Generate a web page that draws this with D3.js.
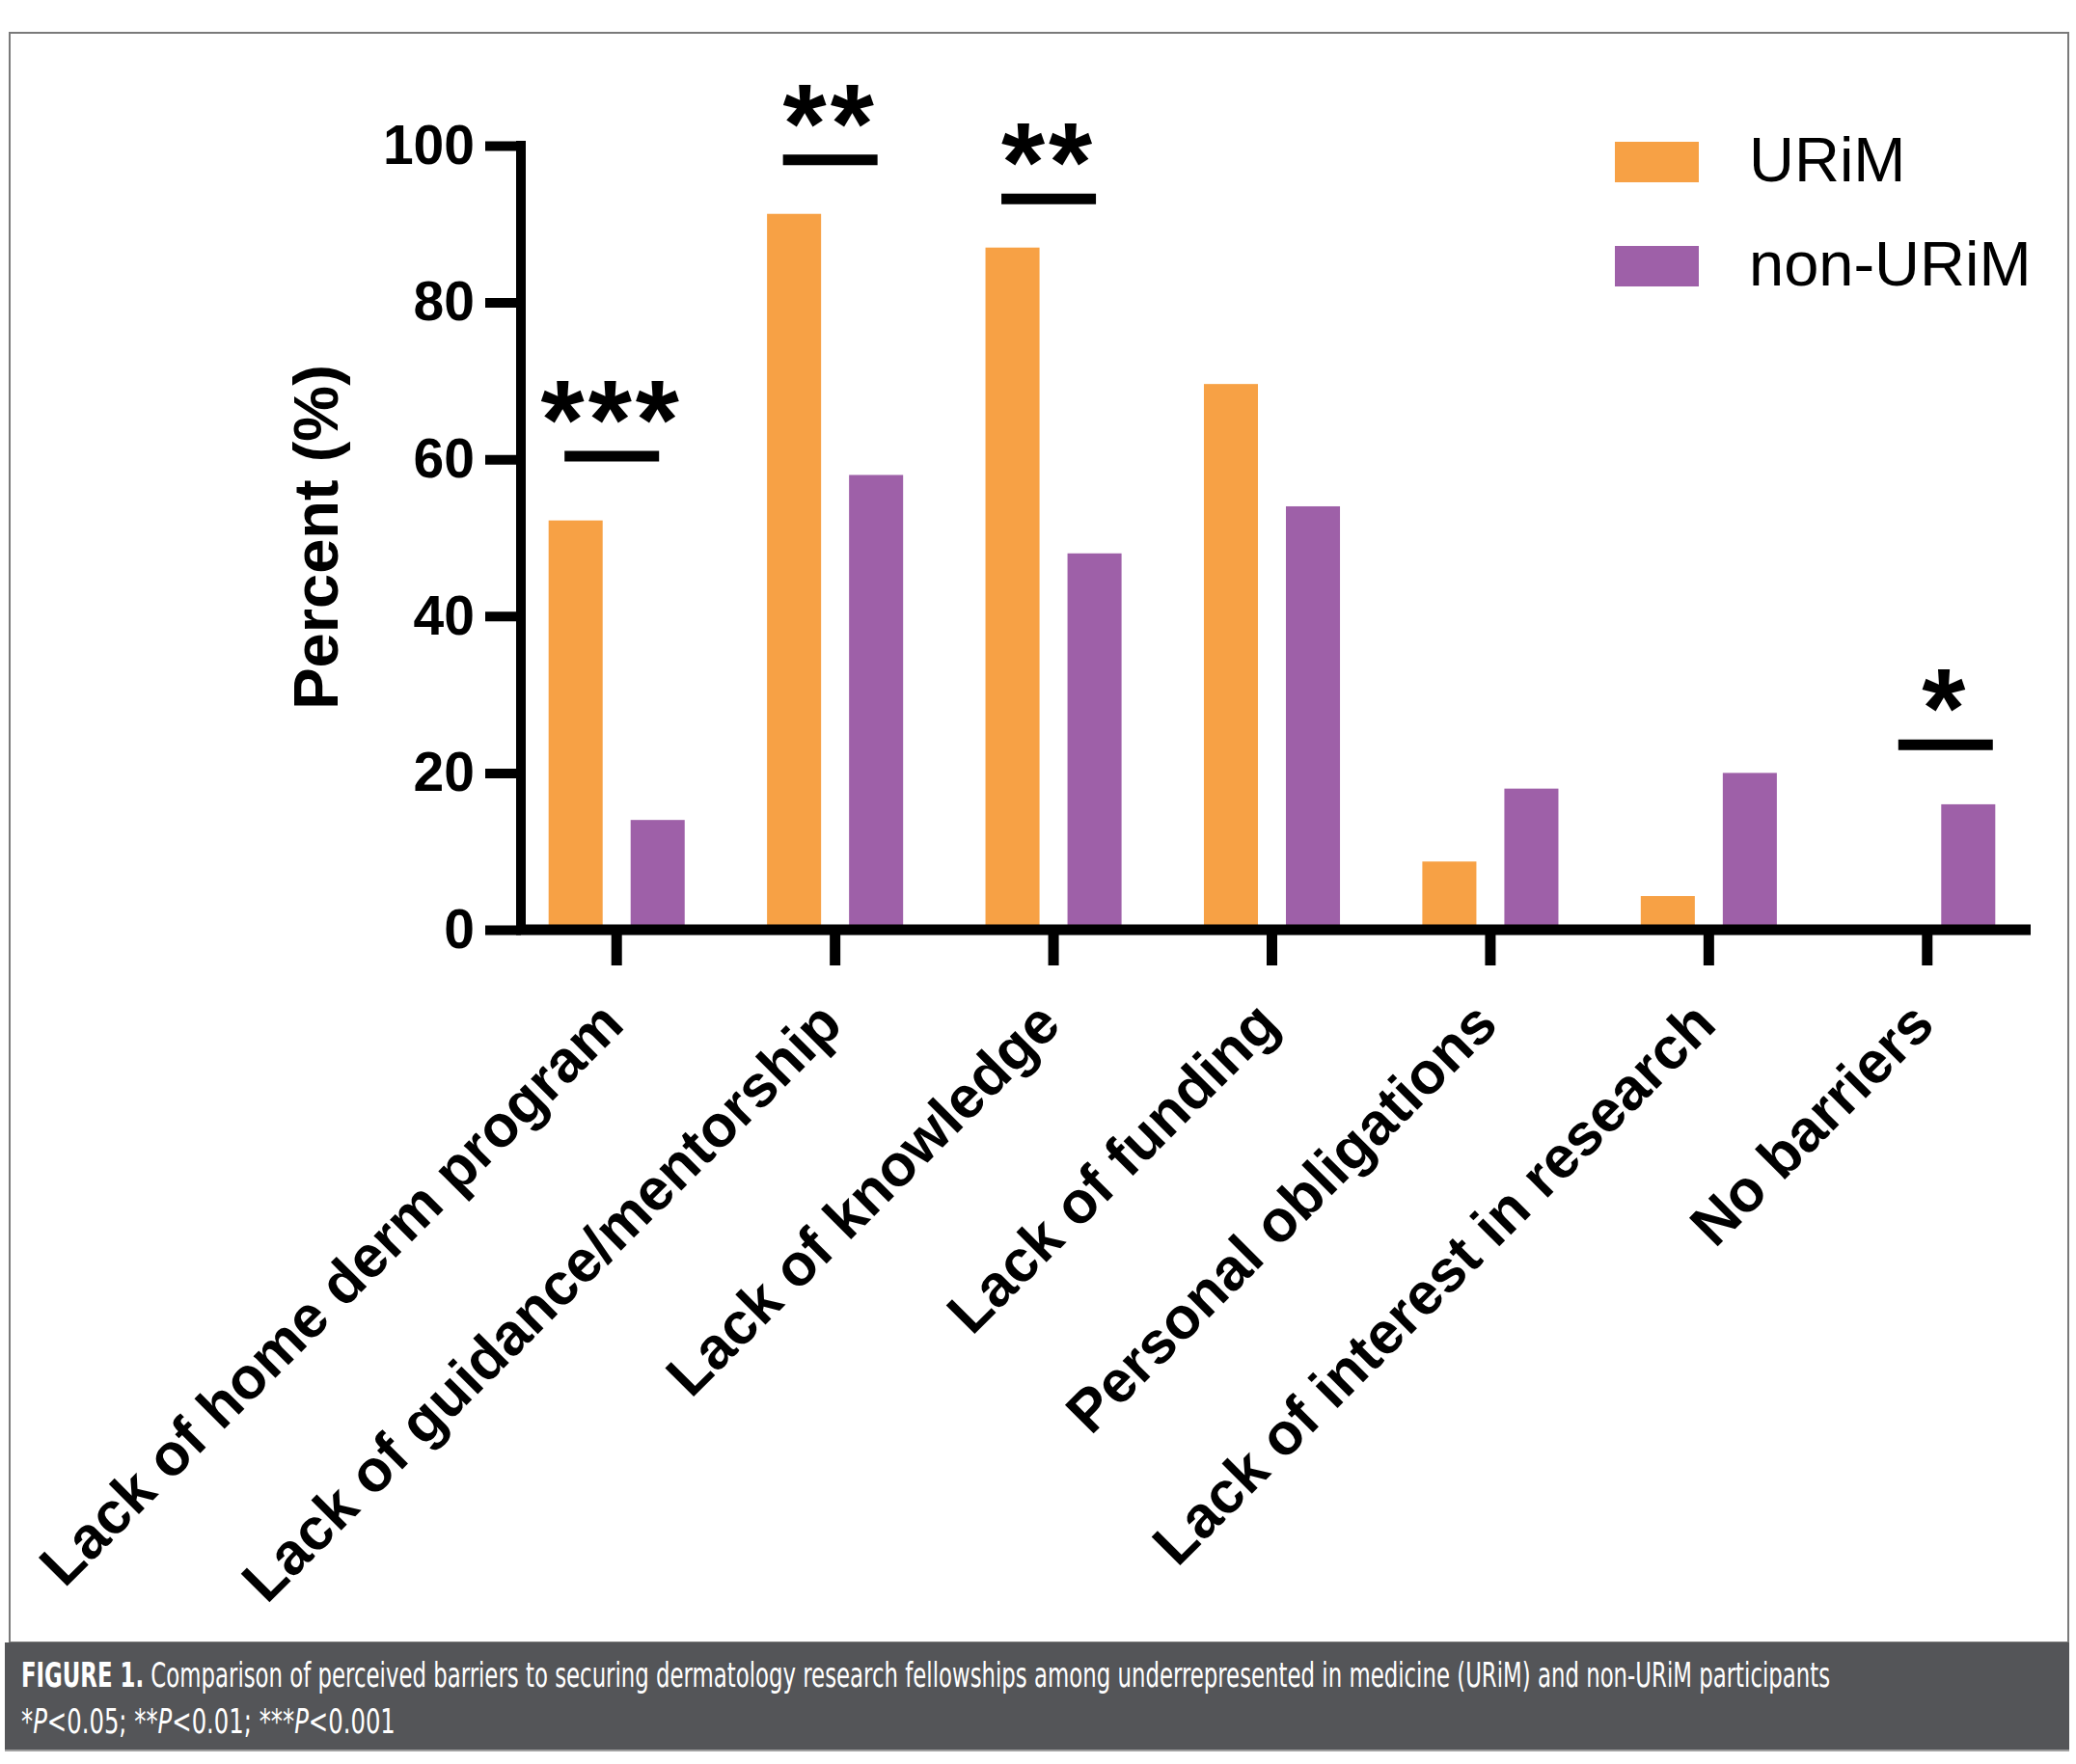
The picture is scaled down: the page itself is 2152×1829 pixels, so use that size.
<!DOCTYPE html>
<html>
<head>
<meta charset="utf-8">
<script src="https://cdn.jsdelivr.net/npm/d3@7"></script>
<style>
    body { margin: 0; background: #fff; }
</style>
</head>
<body>
<script>
// Barriers (x categories)
var categories = ["Lack of home derm program", "Lack of guidance/mentorship", "Lack of knowledge",
    "Lack of funding", "Personal obligations", "Lack of interest in research", "No barriers"];
var groups = ["URiM", "non-URiM"];

// Percent of respondents
var urimValues = [52.2, 91.3, 87.0, 69.6, 8.7, 4.3, 0];
var nonUrimValues = [14, 58, 48, 54, 18, 20, 16];

var yTicks = [0, 20, 40, 60, 80, 100];

// Significance marks
var sigCategories = ["Lack of home derm program", "Lack of guidance/mentorship", "Lack of knowledge", "No barriers"];
var sigLabels = ["***", "**", "**", "*"];
var sigLevels = [60.4, 98.2, 93.2, 23.6];

var captionTitle = "FIGURE 1.";
var captionText = " Comparison of perceived barriers to securing dermatology research fellowships among underrepresented in medicine (URiM) and non-URiM participants";
var captionNotes = [["*", "P", "<0.05; "], ["**", "P", "<0.01; "], ["***", "P", "<0.001"]];

var width = 2152,
    height = 1829,
    plotLeft = 540,
    plotRight = 2105;

var chartFont = "'Liberation Sans', Arial, Helvetica, sans-serif";
var captionFont = "'Liberation Sans Narrow', 'DejaVu Sans Condensed', 'Roboto Condensed', 'Open Sans', sans-serif";

/**
 * 
 */
function appendSVG() {
    var svg = d3.select("body")
        .append("svg")
        .attr("width", width)
        .attr("height", height);

    svg.append("rect")
        .attr("width", width)
        .attr("height", height)
        .attr("fill", "#fff");

    return svg;
}

/**
 * fit a text element to a given width by scaling it horizontally
 */
function fitText(textEl, x, y, targetWidth) {
    var w = textEl.node().getBBox().width;
    textEl.attr("transform", "translate(" + x + "," + y + ") scale(" + (targetWidth / w) + ",1)");
}

/**
 * 
 * @param {*} svg 
 */
function addFrame(svg) {
    svg.append("rect")
        .attr("x", 10)
        .attr("y", 34)
        .attr("width", 2134)
        .attr("height", 1669)
        .attr("fill", "none")
        .attr("stroke", "#7a7a7a")
        .attr("stroke-width", 2);

    svg.append("rect")
        .attr("x", 5)
        .attr("y", 1703)
        .attr("width", 2140)
        .attr("height", 112)
        .attr("fill", "#545558");

    svg.append("line")
        .attr("x1", 5).attr("x2", 2145)
        .attr("y1", 1815).attr("y2", 1815)
        .attr("stroke", "#a0a0a0")
        .attr("stroke-width", 2);

    var line1 = svg.append("text")
        .attr("fill", "#fff")
        .style("font-family", captionFont)
        .style("font-stretch", "condensed")
        .style("font-size", "35px");
    line1.append("tspan").style("font-weight", "bold").text(captionTitle);
    line1.append("tspan").text(captionText);
    fitText(line1, 22, 1749, 1876);

    var line2 = svg.append("text")
        .attr("fill", "#fff")
        .style("font-family", captionFont)
        .style("font-stretch", "condensed")
        .style("font-size", "35px");
    captionNotes.forEach(function (n) {
        line2.append("tspan").text(n[0]);
        line2.append("tspan").style("font-style", "italic").text(n[1]);
        line2.append("tspan").text(n[2]);
    });
    fitText(line2, 22, 1797, 388);
}

/**
 * 
 */
function drawChart() {
    var svg = appendSVG();
    addFrame(svg);

    var data = categories.map(function (c, i) {
        return { cat: c, values: [urimValues[i], nonUrimValues[i]] };
    });

    var x0 = d3.scaleBand()
        .domain(categories)
        .range([526, 2111])
        .paddingInner(0.377)
        .paddingOuter(0.1885);

    var x1 = d3.scaleBand()
        .domain(groups)
        .range([0, x0.bandwidth()])
        .paddingInner(0.341);

    var y = d3.scaleLinear()
        .domain([0, 100])
        .range([964, 151]);

    var color = d3.scaleOrdinal()
        .domain(groups)
        .range(["#f7a145", "#9e60a8"]);

    // Bars
    var g = svg.append("g").attr("class", "bars");
    data.forEach(function (d) {
        g.selectAll(null)
            .data(groups.map(function (k, j) { return { key: k, value: d.values[j] }; }))
            .enter()
            .append("rect")
            .attr("x", function (e) { return x0(d.cat) + x1(e.key); })
            .attr("y", function (e) { return y(e.value); })
            .attr("width", x1.bandwidth())
            .attr("height", function (e) { return y(0) - y(e.value); })
            .attr("fill", function (e) { return color(e.key); });
    });

    // Y axis
    var yAxis = svg.append("g")
        .attr("transform", "translate(" + plotLeft + ",0)")
        .call(d3.axisLeft(y).tickValues(yTicks).tickSize(37).tickSizeOuter(0).tickPadding(11));
    yAxis.select(".domain")
        .attr("d", "M0," + (y(100) - 5) + "V" + (y(0) + 5))
        .attr("stroke", "#000")
        .attr("stroke-width", 10);
    yAxis.selectAll(".tick line")
        .attr("stroke", "#000")
        .attr("stroke-width", 10);
    yAxis.selectAll(".tick text")
        .attr("fill", "#000")
        .style("font-family", chartFont)
        .style("font-weight", "bold")
        .style("font-size", "57px");

    // X axis
    var xAxis = svg.append("g")
        .attr("transform", "translate(0," + y(0) + ")")
        .call(d3.axisBottom(x0).tickSize(37).tickSizeOuter(0));
    xAxis.select(".domain")
        .attr("d", "M" + (plotLeft - 5) + ",0H" + plotRight)
        .attr("stroke", "#000")
        .attr("stroke-width", 11);
    xAxis.selectAll(".tick line")
        .attr("stroke", "#000")
        .attr("stroke-width", 11);
    xAxis.selectAll(".tick text")
        .attr("x", 0)
        .attr("y", 0)
        .attr("dy", null)
        .attr("text-anchor", "end")
        .attr("transform", "translate(10,101) rotate(-45)")
        .attr("fill", "#000")
        .style("font-family", chartFont)
        .style("font-weight", "bold")
        .style("font-size", "61px");

    // Y label
    svg.append("text")
        .attr("transform", "translate(350,557) rotate(-90)")
        .attr("text-anchor", "middle")
        .style("font-family", chartFont)
        .style("font-weight", "bold")
        .style("font-size", "65px")
        .text("Percent (%)");

    // Significance
    sigCategories.forEach(function (c, i) {
        var cx = x0(c) + x0.bandwidth() / 2 + (c === "No barriers" ? 19 : -5);
        var ly = y(sigLevels[i]);
        svg.append("line")
            .attr("x1", cx - 49).attr("x2", cx + 49)
            .attr("y1", ly).attr("y2", ly)
            .attr("stroke", "#000")
            .attr("stroke-width", 11);
        svg.append("text")
            .attr("x", cx)
            .attr("y", ly + 3)
            .attr("text-anchor", "middle")
            .style("font-family", chartFont)
            .style("font-weight", "bold")
            .style("font-size", "116px")
            .style("letter-spacing", "4px")
            .text(sigLabels[i]);
    });

    // Legend
    var legend = svg.append("g").attr("transform", "translate(1674,147)");
    groups.forEach(function (k, i) {
        legend.append("rect")
            .attr("x", 0)
            .attr("y", i * 108)
            .attr("width", 87)
            .attr("height", 42)
            .attr("fill", color(k));
        legend.append("text")
            .attr("x", 139)
            .attr("y", i * 108 + 41)
            .style("font-family", chartFont)
            .style("font-size", "65px")
            .text(k);
    });
}

drawChart();
</script>
</body>
</html>
